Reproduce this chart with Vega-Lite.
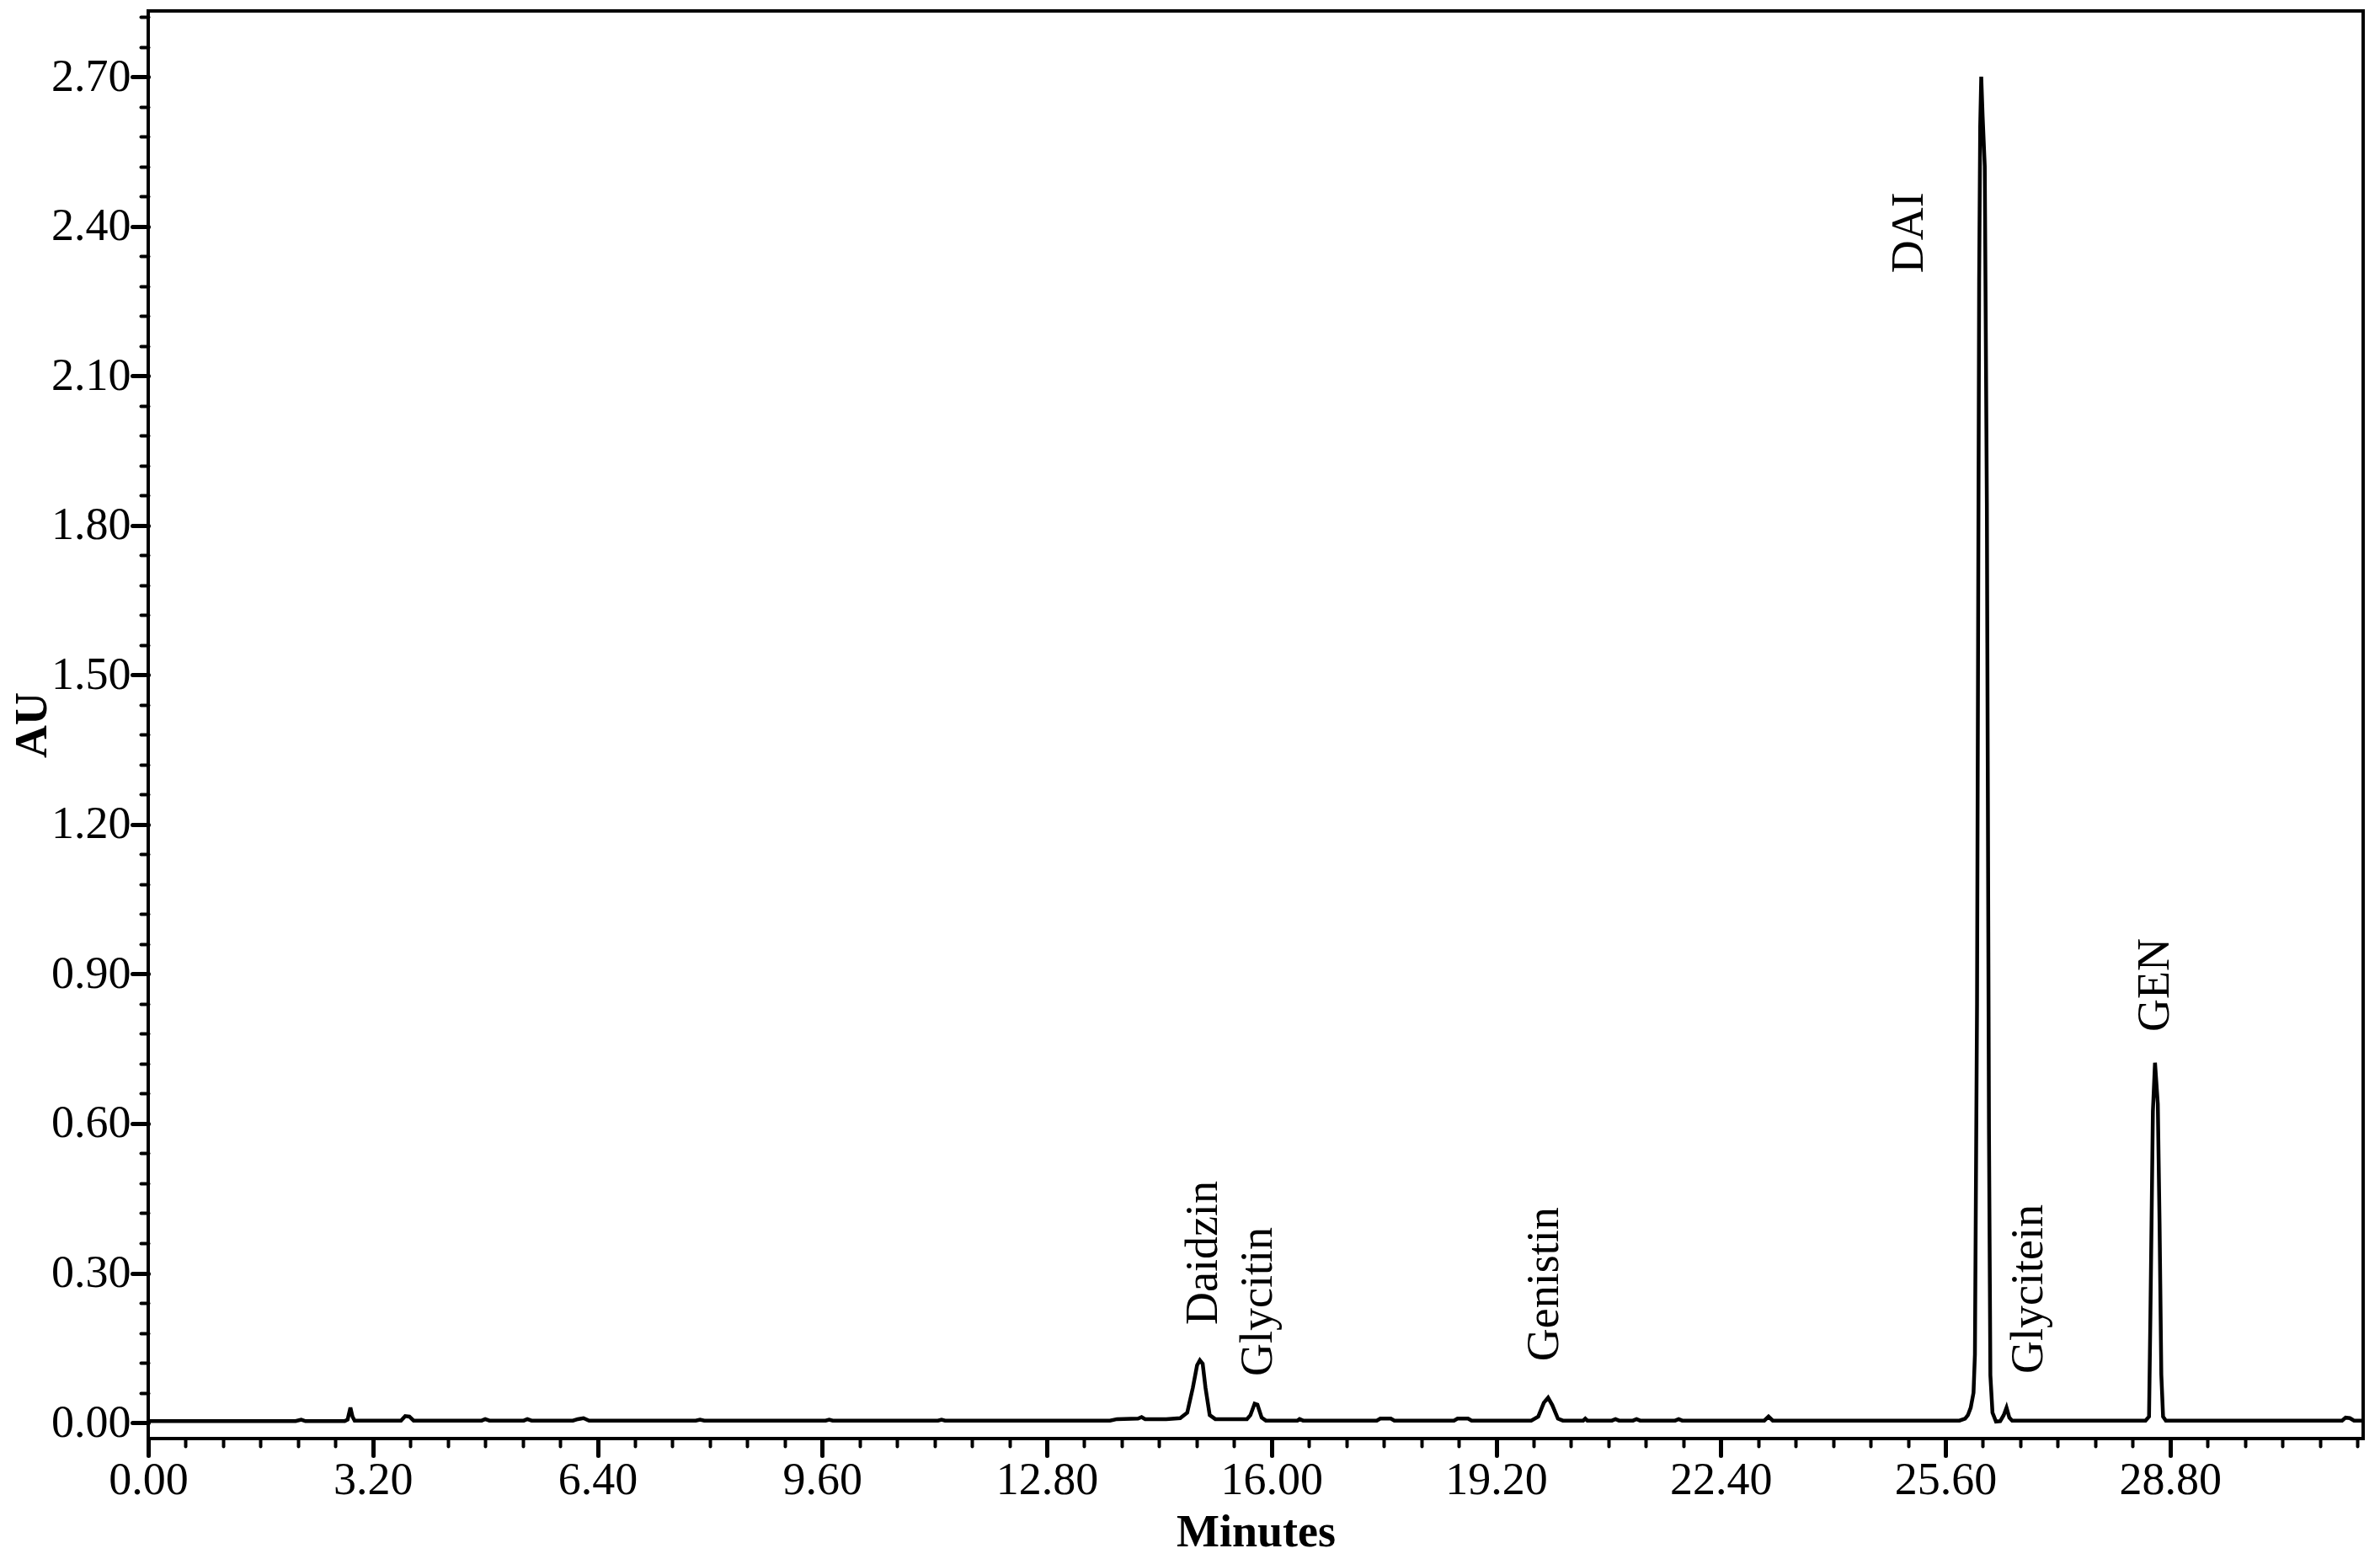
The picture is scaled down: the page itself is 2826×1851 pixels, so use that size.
{
  "$schema": "https://vega.github.io/schema/vega-lite/v6.json",
  "autosize": {"type": "none"},
  "padding": {"left": 176, "top": 13, "right": 20, "bottom": 143},
  "width": 2630,
  "height": 1695,
  "background": "white",
  "config": {
    "view": {"stroke": "black", "strokeWidth": 4},
    "font": "Liberation Serif"
  },
  "datasets": {
    "trace": [
      {"t": 0.00, "au": 0.003}, {"t": 2.10, "au": 0.003}, {"t": 2.18, "au": 0.006}, {"t": 2.24, "au": 0.003},
      {"t": 2.80, "au": 0.003}, {"t": 2.84, "au": 0.006}, {"t": 2.88, "au": 0.030}, {"t": 2.91, "au": 0.012}, {"t": 2.94, "au": 0.004},
      {"t": 3.60, "au": 0.004}, {"t": 3.66, "au": 0.013}, {"t": 3.72, "au": 0.012}, {"t": 3.78, "au": 0.004},
      {"t": 4.75, "au": 0.004}, {"t": 4.80, "au": 0.007}, {"t": 4.86, "au": 0.004},
      {"t": 5.35, "au": 0.004}, {"t": 5.40, "au": 0.007}, {"t": 5.46, "au": 0.004},
      {"t": 6.05, "au": 0.004}, {"t": 6.12, "au": 0.007}, {"t": 6.20, "au": 0.009}, {"t": 6.28, "au": 0.004},
      {"t": 7.80, "au": 0.004}, {"t": 7.86, "au": 0.006}, {"t": 7.92, "au": 0.004},
      {"t": 9.65, "au": 0.004}, {"t": 9.70, "au": 0.006}, {"t": 9.75, "au": 0.004},
      {"t": 11.25, "au": 0.004}, {"t": 11.30, "au": 0.006}, {"t": 11.35, "au": 0.004},
      {"t": 13.70, "au": 0.004}, {"t": 13.80, "au": 0.007}, {"t": 14.10, "au": 0.008}, {"t": 14.15, "au": 0.011}, {"t": 14.20, "au": 0.007},
      {"t": 14.50, "au": 0.007}, {"t": 14.70, "au": 0.009}, {"t": 14.80, "au": 0.020}, {"t": 14.88, "au": 0.070}, {"t": 14.94, "au": 0.115},
      {"t": 14.98, "au": 0.125}, {"t": 15.02, "au": 0.118}, {"t": 15.06, "au": 0.070}, {"t": 15.12, "au": 0.015}, {"t": 15.20, "au": 0.007},
      {"t": 15.65, "au": 0.007}, {"t": 15.70, "au": 0.015}, {"t": 15.76, "au": 0.038}, {"t": 15.80, "au": 0.036}, {"t": 15.86, "au": 0.010}, {"t": 15.92, "au": 0.004},
      {"t": 16.37, "au": 0.004}, {"t": 16.40, "au": 0.007}, {"t": 16.45, "au": 0.004},
      {"t": 17.50, "au": 0.004}, {"t": 17.55, "au": 0.008}, {"t": 17.70, "au": 0.008}, {"t": 17.75, "au": 0.004},
      {"t": 18.60, "au": 0.004}, {"t": 18.65, "au": 0.008}, {"t": 18.80, "au": 0.008}, {"t": 18.85, "au": 0.004},
      {"t": 19.70, "au": 0.004}, {"t": 19.80, "au": 0.012}, {"t": 19.88, "au": 0.040}, {"t": 19.94, "au": 0.050}, {"t": 20.00, "au": 0.035},
      {"t": 20.08, "au": 0.008}, {"t": 20.15, "au": 0.004},
      {"t": 20.44, "au": 0.004}, {"t": 20.47, "au": 0.008}, {"t": 20.50, "au": 0.004},
      {"t": 20.85, "au": 0.004}, {"t": 20.90, "au": 0.007}, {"t": 20.95, "au": 0.004},
      {"t": 21.15, "au": 0.004}, {"t": 21.20, "au": 0.007}, {"t": 21.25, "au": 0.004},
      {"t": 21.75, "au": 0.004}, {"t": 21.80, "au": 0.007}, {"t": 21.85, "au": 0.004},
      {"t": 23.02, "au": 0.004}, {"t": 23.08, "au": 0.012}, {"t": 23.14, "au": 0.004},
      {"t": 25.80, "au": 0.004}, {"t": 25.88, "au": 0.008}, {"t": 25.92, "au": 0.015}, {"t": 25.96, "au": 0.030}, {"t": 26.00, "au": 0.060},
      {"t": 26.02, "au": 0.137}, {"t": 26.05, "au": 0.840}, {"t": 26.08, "au": 2.290}, {"t": 26.095, "au": 2.600}, {"t": 26.11, "au": 2.700},
      {"t": 26.13, "au": 2.620},
      {"t": 26.16, "au": 2.520}, {"t": 26.19, "au": 1.845}, {"t": 26.22, "au": 0.588}, {"t": 26.24, "au": 0.095}, {"t": 26.27, "au": 0.020},
      {"t": 26.32, "au": 0.002}, {"t": 26.38, "au": 0.003}, {"t": 26.43, "au": 0.015}, {"t": 26.47, "au": 0.030}, {"t": 26.51, "au": 0.010}, {"t": 26.55, "au": 0.004},
      {"t": 28.45, "au": 0.004}, {"t": 28.50, "au": 0.012}, {"t": 28.52, "au": 0.220}, {"t": 28.555, "au": 0.624}, {"t": 28.585, "au": 0.722},
      {"t": 28.625, "au": 0.639}, {"t": 28.65, "au": 0.399}, {"t": 28.675, "au": 0.096}, {"t": 28.70, "au": 0.012}, {"t": 28.74, "au": 0.004},
      {"t": 31.25, "au": 0.004}, {"t": 31.30, "au": 0.010}, {"t": 31.36, "au": 0.009}, {"t": 31.42, "au": 0.004}, {"t": 31.55, "au": 0.004}
    ],
    "labels": [
      {"label": "Daidzin", "t": 15.03, "au": 0.196},
      {"label": "Glycitin", "t": 15.81, "au": 0.093},
      {"label": "Genistin", "t": 19.89, "au": 0.123},
      {"label": "DAI", "t": 25.09, "au": 2.306},
      {"label": "Glycitein", "t": 26.79, "au": 0.098},
      {"label": "GEN", "t": 28.59, "au": 0.784}
    ]
  },
  "resolve": {"axis": {"x": "independent", "y": "independent"}},
  "layer": [
    {
      "data": {"name": "trace"},
      "mark": {"type": "line", "color": "black", "strokeWidth": 4.5, "clip": true},
      "encoding": {
        "x": {
          "field": "t", "type": "quantitative",
          "scale": {"domain": [0, 31.55], "nice": false, "zero": false},
          "axis": {
            "orient": "bottom",
            "values": [0, 3.2, 6.4, 9.6, 12.8, 16, 19.2, 22.4, 25.6, 28.8],
            "format": ".2f",
            "labelOverlap": false,
            "labelFlush": false,
            "labelBound": false,
            "grid": false,
            "domainColor": "black",
            "domainWidth": 3,
            "tickColor": "black",
            "tickCap": "round",
            "tickSize": 20,
            "tickWidth": 5,
            "labelFont": "Liberation Serif",
            "labelFontSize": 54,
            "labelColor": "black",
            "labelPadding": 2,
            "title": "Minutes",
            "titleFont": "Liberation Serif",
            "titleFontSize": 54,
            "titleFontWeight": "bold",
            "titleColor": "black",
            "titlePadding": 8
          }
        },
        "y": {
          "field": "au", "type": "quantitative",
          "scale": {"domain": [-0.032, 2.832], "nice": false, "zero": false},
          "axis": {
            "orient": "left",
            "values": [0, 0.3, 0.6, 0.9, 1.2, 1.5, 1.8, 2.1, 2.4, 2.7],
            "format": ".2f",
            "labelOverlap": false,
            "labelFlush": false,
            "labelBound": false,
            "grid": false,
            "domainColor": "black",
            "domainWidth": 3,
            "tickColor": "black",
            "tickCap": "round",
            "tickSize": 19,
            "tickWidth": 5,
            "labelFont": "Liberation Serif",
            "labelFontSize": 54,
            "labelColor": "black",
            "labelPadding": 2,
            "title": "AU",
            "titleFont": "Liberation Serif",
            "titleFontSize": 54,
            "titleFontWeight": "bold",
            "titleColor": "black",
            "titlePadding": -5
          }
        }
      }
    },
    {
      "data": {"name": "labels"},
      "mark": {"type": "text", "angle": 270, "align": "left", "baseline": "middle", "font": "Liberation Serif", "fontSize": 54, "color": "black"},
      "encoding": {
        "x": {
          "field": "t", "type": "quantitative",
          "axis": {
            "orient": "bottom",
            "values": [0.5333, 1.0667, 1.6, 2.1333, 2.6667, 3.7333, 4.2667, 4.8, 5.3333, 5.8667, 6.9333, 7.4667, 8, 8.5333, 9.0667, 10.1333, 10.6667, 11.2, 11.7333, 12.2667, 13.3333, 13.8667, 14.4, 14.9333, 15.4667, 16.5333, 17.0667, 17.6, 18.1333, 18.6667, 19.7333, 20.2667, 20.8, 21.3333, 21.8667, 22.9333, 23.4667, 24, 24.5333, 25.0667, 26.1333, 26.6667, 27.2, 27.7333, 28.2667, 29.3333, 29.8667, 30.4, 30.9333, 31.4667],
            "labels": false,
            "domain": false,
            "grid": false,
            "title": null,
            "tickColor": "black",
            "tickCap": "round",
            "tickSize": 9,
            "tickWidth": 4
          }
        },
        "y": {
          "field": "au", "type": "quantitative",
          "axis": {
            "orient": "left",
            "values": [0.06, 0.12, 0.18, 0.24, 0.36, 0.42, 0.48, 0.54, 0.66, 0.72, 0.78, 0.84, 0.96, 1.02, 1.08, 1.14, 1.26, 1.32, 1.38, 1.44, 1.56, 1.62, 1.68, 1.74, 1.86, 1.92, 1.98, 2.04, 2.16, 2.22, 2.28, 2.34, 2.46, 2.52, 2.58, 2.64, 2.76, 2.82],
            "labels": false,
            "domain": false,
            "grid": false,
            "title": null,
            "tickColor": "black",
            "tickCap": "round",
            "tickSize": 9,
            "tickWidth": 4
          }
        },
        "text": {"field": "label"}
      }
    }
  ]
}
